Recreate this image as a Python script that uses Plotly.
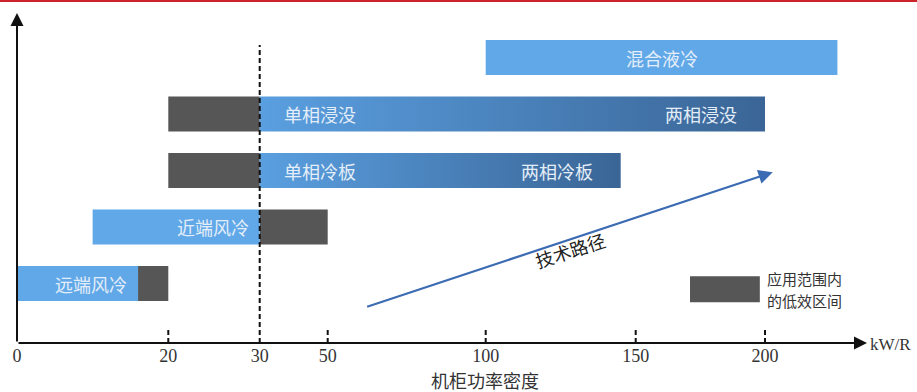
import numpy as np
import plotly.graph_objects as go

# ---------------- data ----------------
rows = [1, 2, 3, 4, 5]
row_names = ["远端风冷", "近端风冷", "冷板", "浸没", "混合液冷"]
eff_start = [0, 10, 30, 30, 100]          # kW/R, efficient range start
eff_end = [16, 30, 145, 200, 228]         # kW/R, efficient range end
low_start = [16, 30, 20, 20, None]        # low-efficiency range start
low_end = [20, 50, 30, 30, None]          # low-efficiency range end
gradient_rows = [False, False, True, True, False]
label_first = [None, None, "单相冷板", "单相浸没", None]
label_last = ["远端风冷", "近端风冷", "两相冷板", "两相浸没", None]
label_mid = [None, None, None, None, "混合液冷"]
tick_values = [0, 20, 30, 50, 100, 150, 200]
tick_labels = ["0", "20", "30", "50", "100", "150", "200"]
threshold = 30
path_from = (62, 0.58)     # 技术路径 arrow (kW/R, row)
path_to = (203, 2.97)
path_text_at = (128, 1.6)
legend_box = (171, 198, 0.67, 1.13)
legend_lines = ["应用范围内", "的低效区间"]

# ---------------- scale (broken axis) ----------------
AXIS_POS = [0, 151.3, 242.7, 310.7, 468.7, 618.7, 748]
AXIS_END = 851


def to_pos(v):
    v = np.asarray(v, dtype=float)
    p = np.interp(v, tick_values, AXIS_POS)
    slope = (AXIS_POS[-1] - AXIS_POS[-2]) / (tick_values[-1] - tick_values[-2])
    return np.where(v > tick_values[-1], AXIS_POS[-1] + (v - tick_values[-1]) * slope, p)


BAR_H = 0.62
Y0, Y1 = -0.0531, 5.788
LIGHT = "#61a8e8"
GRAY = "#565656"
GRAD = [[0, "#5a9fe0"], [1, "#3a6596"]]
TXT_ON_BAR = "#e4eef8"
CJK = "Noto Sans CJK SC"
SERIF = "Liberation Serif"

fig = go.Figure()

# low-efficiency (gray) bars
g_rows = [r for r, s in zip(rows, low_start) if s is not None]
g_s = [s for s in low_start if s is not None]
g_e = [e for e in low_end if e is not None]
fig.add_trace(go.Bar(
    orientation="h", y=g_rows, base=to_pos(g_s), x=to_pos(g_e) - to_pos(g_s),
    width=BAR_H, marker=dict(color=GRAY, line=dict(width=0)), showlegend=False,
    hoverinfo="skip"))

# plain efficient bars
p_rows = [r for r, g in zip(rows, gradient_rows) if not g]
p_s = [s for s, g in zip(eff_start, gradient_rows) if not g]
p_e = [e for e, g in zip(eff_end, gradient_rows) if not g]
fig.add_trace(go.Bar(
    orientation="h", y=p_rows, base=to_pos(p_s), x=to_pos(p_e) - to_pos(p_s),
    width=BAR_H, marker=dict(color=LIGHT, line=dict(width=0)), showlegend=False,
    hoverinfo="skip"))

# gradient bars
for r, s, e, g in zip(rows, eff_start, eff_end, gradient_rows):
    if not g:
        continue
    x0, x1 = float(to_pos(s)), float(to_pos(e))
    fig.add_trace(go.Scatter(
        x=[x0, x1, x1, x0, x0],
        y=[r - BAR_H / 2, r - BAR_H / 2, r + BAR_H / 2, r + BAR_H / 2, r - BAR_H / 2],
        mode="lines", line=dict(width=0), fill="toself",
        fillgradient=dict(type="horizontal", colorscale=GRAD),
        showlegend=False, hoverinfo="skip"))

ann = []
for r, s, e, g, lf, ll, lm in zip(rows, eff_start, eff_end, gradient_rows,
                                   label_first, label_last, label_mid):
    fnt = dict(family=CJK, size=18, color=TXT_ON_BAR)
    if lf:
        ann.append(dict(x=float(to_pos(s)), y=r, text=lf, xanchor="left", xshift=22,
                        showarrow=False, font=fnt))
    if ll:
        ann.append(dict(x=float(to_pos(e)), y=r, text=ll, xanchor="right",
                        xshift=-26 if g else -9, showarrow=False, font=fnt))
    if lm:
        ann.append(dict(x=float((to_pos(s) + to_pos(e)) / 2), y=r, text=lm,
                        xanchor="center", showarrow=False, font=fnt))

# axes arrows
ann.append(dict(x=AXIS_END - 1, y=Y0, ax=0, ay=Y0, xref="x", yref="y", axref="x", ayref="y",
                text="", showarrow=True, arrowhead=2, arrowsize=1.3, arrowwidth=2,
                arrowcolor="#111", standoff=0))
ann.append(dict(x=0, y=Y1, ax=0, ay=Y0, xref="x", yref="y", axref="x", ayref="y",
                text="", showarrow=True, arrowhead=2, arrowsize=1.3, arrowwidth=2,
                arrowcolor="#111", standoff=0))
# technology path arrow
ann.append(dict(x=float(to_pos(path_to[0])), y=path_to[1],
                ax=float(to_pos(path_from[0])), ay=path_from[1],
                xref="x", yref="y", axref="x", ayref="y", text="", showarrow=True,
                arrowhead=2, arrowsize=1.3, arrowwidth=2.2, arrowcolor="#3c6bb4", standoff=0))
ann.append(dict(x=float(to_pos(path_text_at[0])), y=path_text_at[1], text="技术路径",
                textangle=-18, showarrow=False, font=dict(family=CJK, size=18, color="#222")))
# legend
for i, line in enumerate(legend_lines):
    ann.append(dict(x=float(to_pos(legend_box[1])), y=(legend_box[2] + legend_box[3]) / 2,
                    text=line, xanchor="left", yanchor="middle", xshift=5,
                    yshift=11 - 22 * i, showarrow=False,
                    font=dict(family=CJK, size=15, color="#333")))
# axis unit and title
ann.append(dict(x=1.0, xref="paper", y=-0.006, yref="paper", text="kW/R", xanchor="left",
                yanchor="middle", showarrow=False, font=dict(family=SERIF, size=17, color="#333")))
ann.append(dict(x=0.55, xref="paper", y=-0.112, yref="paper", text="机柜功率密度",
                xanchor="center", yanchor="middle", showarrow=False,
                font=dict(family=CJK, size=18, color="#333")))

shapes = []
# threshold dashed line
shapes.append(dict(type="line", x0=float(to_pos(threshold)), x1=float(to_pos(threshold)),
                   y0=Y0, y1=5.22, xref="x", yref="y",
                   line=dict(color="#111", width=2, dash="5px,3px")))
# dashed tick marks
for v in tick_values[1:]:
    if v == threshold:
        continue
    shapes.append(dict(type="line", x0=float(to_pos(v)), x1=float(to_pos(v)),
                       y0=Y0, y1=0.177, xref="x", yref="y",
                       line=dict(color="#111", width=2, dash="5px,3px")))
# legend box
shapes.append(dict(type="rect", x0=float(to_pos(legend_box[0])), x1=float(to_pos(legend_box[1])),
                   y0=legend_box[2], y1=legend_box[3], xref="x", yref="y",
                   fillcolor=GRAY, line=dict(width=0)))
# red top rule
shapes.append(dict(type="line", x0=-17 / 851, x1=900 / 851, y0=1 + 12 / 330, y1=1 + 12 / 330,
                   xref="paper", yref="paper", line=dict(color="#cc2229", width=2)))

fig.update_layout(
    width=917, height=392, autosize=False,
    margin=dict(l=17, r=49, t=13, b=49),
    paper_bgcolor="white", plot_bgcolor="white",
    barmode="overlay",
    xaxis=dict(range=[0, AXIS_END], showgrid=False, zeroline=False, showline=False,
               tickmode="array", tickvals=list(to_pos(tick_values)), ticktext=tick_labels,
               ticks="", tickfont=dict(family=SERIF, size=18, color="#333"), fixedrange=True),
    yaxis=dict(range=[Y0, Y1], visible=False, fixedrange=True),
    annotations=ann, shapes=shapes,
)

fig.write_html("out.html")
